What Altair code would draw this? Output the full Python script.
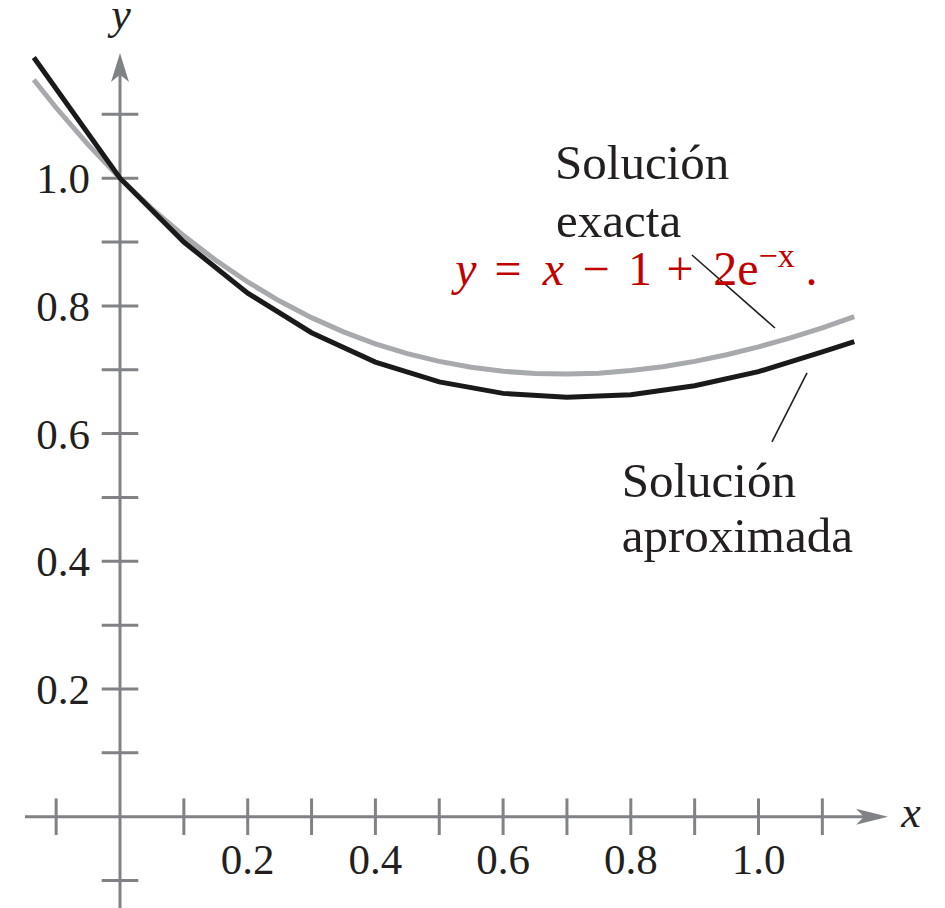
import altair as alt
import pandas as pd

# Exact solution y = x - 1 + 2e^(-x)
exact_x = [-0.135, -0.1, -0.05, 0.0, 0.05, 0.1, 0.15, 0.2, 0.25, 0.3, 0.35, 0.4,
           0.45, 0.5, 0.55, 0.6, 0.65, 0.7, 0.75, 0.8, 0.85, 0.9, 0.95, 1.0,
           1.05, 1.1, 1.15]
exact_y = [1.1541, 1.1103, 1.0525, 1.0, 0.9525, 0.9097, 0.8714, 0.8375, 0.8076,
           0.7816, 0.7594, 0.7406, 0.7253, 0.7131, 0.7039, 0.6976, 0.6941, 0.6932,
           0.6947, 0.6987, 0.7048, 0.7131, 0.7235, 0.7358, 0.7499, 0.7657, 0.7833]

# Approximate (step-by-step) solution
approx_x = [-0.135, 0.0, 0.1, 0.2, 0.3, 0.4, 0.5, 0.6, 0.7, 0.8, 0.9, 1.0, 1.1, 1.15]
approx_y = [1.189, 1.0, 0.9, 0.82, 0.758, 0.712, 0.681, 0.663, 0.657, 0.661,
            0.675, 0.697, 0.728, 0.744]

x_ticks = [-0.1, 0.1, 0.2, 0.3, 0.4, 0.5, 0.6, 0.7, 0.8, 0.9, 1.0, 1.1]
y_ticks = [-0.1, 0.1, 0.2, 0.3, 0.4, 0.5, 0.6, 0.7, 0.8, 0.9, 1.0, 1.1]
x_labels = [0.2, 0.4, 0.6, 0.8, 1.0]
y_labels = [0.2, 0.4, 0.6, 0.8, 1.0]

AXIS = "#808285"
INK = "#231f20"
GRAY = "#a7a9ac"
RED = "#c00000"
SERIF = "Liberation Serif"

# 638.5 px per unit on both axes, origin at (120, 816.7) in a 945x908 frame
xs = alt.Scale(domain=[-120 / 638.5, 825 / 638.5], nice=False, zero=False)
ys = alt.Scale(domain=[-91.3 / 638.5, 816.7 / 638.5], nice=False, zero=False)
TH = 18.3 / 638.5  # half tick length in data units


def X(f="x"):
    return alt.X(f"{f}:Q", scale=xs, axis=None)


def Y(f="y"):
    return alt.Y(f"{f}:Q", scale=ys, axis=None)


def label_layer(df, **style):
    return alt.Chart(pd.DataFrame(df)).mark_text(
        font=SERIF, baseline="alphabetic", **style
    ).encode(x=X(), y=Y(), text="t:N")


# Axis lines
axes_df = pd.DataFrame({
    "x": [-0.1488, 0.0], "x2": [1.19, 0.0],
    "y": [0.0, -0.143], "y2": [0.0, 1.18],
})
axes = alt.Chart(axes_df).mark_rule(color=AXIS, strokeWidth=3).encode(
    x=X(), x2="x2:Q", y=Y(), y2="y2:Q")

# Tick marks crossing the axes
ticks_df = pd.DataFrame(
    [{"x": t, "x2": t, "y": -TH, "y2": TH} for t in x_ticks]
    + [{"x": -TH, "x2": TH, "y": t, "y2": t} for t in y_ticks]
)
ticks = alt.Chart(ticks_df).mark_rule(color=AXIS, strokeWidth=3).encode(
    x=X(), x2="x2:Q", y=Y(), y2="y2:Q")

# Arrowheads
arrow_up = alt.Chart(pd.DataFrame({"x": [0.0], "y": [1.1734]})).mark_point(
    shape="M0,-1L0.62,1L0,0.5L-0.62,1Z", size=841, filled=True,
    fill=AXIS, stroke=None, opacity=1).encode(x=X(), y=Y())
arrow_right = alt.Chart(pd.DataFrame({"x": [1.1778], "y": [0.0]})).mark_point(
    shape="M1,0L-1,0.5L-0.5,0L-1,-0.5Z", size=1024, filled=True,
    fill=AXIS, stroke=None, opacity=1).encode(x=X(), y=Y())

# Tick labels
xlab = label_layer({"x": x_labels, "y": [0.0] * len(x_labels),
                    "t": [f"{v:.1f}" for v in x_labels]},
                   fontSize=43, color=INK, align="center", dy=57)
ylab = label_layer({"x": [0.0] * len(y_labels), "y": y_labels,
                    "t": [f"{v:.1f}" for v in y_labels]},
                   fontSize=43, color=INK, align="right", dx=-30, dy=15)

# Axis names
axis_names = label_layer({"x": [0.0016, 1.2388], "y": [1.2330, -0.0161],
                          "t": ["y", "x"]},
                         fontSize=44, fontStyle="italic", color=INK, align="center")

# Curves
exact = alt.Chart(pd.DataFrame({"x": exact_x, "y": exact_y})).mark_line(
    color=GRAY, strokeWidth=5, strokeCap="butt").encode(x=X(), y=Y(), order="x:Q")
approx = alt.Chart(pd.DataFrame({"x": approx_x, "y": approx_y})).mark_line(
    color="#1a1a1a", strokeWidth=5, strokeCap="butt").encode(x=X(), y=Y(), order="x:Q")

# Leader lines
leaders = alt.Chart(pd.DataFrame({
    "x": [0.8958, 1.0760], "y": [0.8797, 0.6951],
    "x2": [1.0258, 1.0211], "y2": [0.7654, 0.5871],
})).mark_rule(color=INK, strokeWidth=1.6).encode(x=X(), x2="x2:Q", y=Y(), y2="y2:Q")

# Curve labels
notes = label_layer({
    "x": [0.6813, 0.6829, 0.7857, 0.7857],
    "y": [0.9995, 0.9079, 0.5012, 0.4146],
    "t": ["Solución", "exacta", "Solución", "aproximada"],
}, fontSize=49, color=INK, align="left")

# Formula of the exact solution, set piece by piece
EQ_Y = 0.8327
eq_italic = label_layer({"x": [0.5419, 0.6789], "y": [EQ_Y] * 2, "t": ["y", "x"]},
                        fontSize=48, fontStyle="italic", color=RED, align="center")
eq_ops = label_layer({"x": [0.6077, 0.7455, 0.8144, 0.8771, 1.0830],
                      "y": [EQ_Y] * 5, "t": ["=", "−", "1", "+", "."]},
                     fontSize=48, color=RED, align="center")
eq_base = label_layer({"x": [1.0000], "y": [EQ_Y], "t": ["2e"]},
                      fontSize=48, color=RED, align="right")
eq_sup = label_layer({"x": [1.0000], "y": [0.8614], "t": ["−x"]},
                     fontSize=34, color=RED, align="left")

chart = alt.layer(
    axes, ticks, arrow_up, arrow_right, xlab, ylab, axis_names,
    exact, approx, leaders, notes, eq_italic, eq_ops, eq_base, eq_sup,
).properties(
    width=945, height=908, padding=0,
    autosize=alt.AutoSizeParams(type="none"),
    background="white",
).configure_view(stroke=None)

chart.save("out.html", embed_options={"renderer": "svg", "actions": False})
